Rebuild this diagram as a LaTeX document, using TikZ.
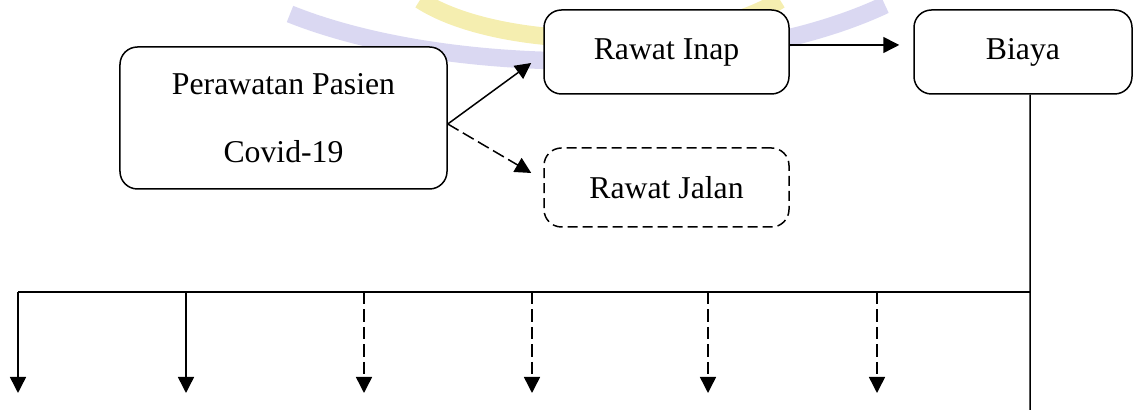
\documentclass[tikz,border=0pt]{standalone}
\usepackage{fontspec}
\setmainfont{Liberation Serif}
\usetikzlibrary{arrows.meta}
\definecolor{wmyellow}{HTML}{F5EEB0}
\definecolor{wmlilac}{HTML}{DAD8F2}
\tikzset{
  box/.style={draw, fill=white, rounded corners=7pt, line width=0.6pt, inner sep=2pt,
    font=\fontsize{12.7}{15}\selectfont},
  flow/.style={line width=0.6pt, -{Triangle[length=6.4pt,width=6.4pt]}},
  dashbox/.style={dash pattern=on 4pt off 2pt},
  dashflow/.style={dash pattern=on 5pt off 2pt}
}
\begin{document}
\begin{tikzpicture}[x=0.4pt,y=-0.4pt]
\useasboundingbox (0,0) rectangle (1133,410);
% faint watermark at the top
\draw[wmlilac, line width=7pt] (290,14) .. controls (450,78) and (730,78) .. (885,5);
\draw[wmyellow, line width=7pt] (420,0) .. controls (500,52) and (700,52) .. (780,0);
% boxes
\node[box, minimum width=130.8pt, minimum height=56.8pt, align=center,
  font=\fontsize{12.7}{27.2}\selectfont] (pasien) at (283.5,118) {Perawatan Pasien\\Covid-19};
\node[box, minimum width=98pt, minimum height=33.6pt] (inap) at (666.5,52) {Rawat Inap};
\node[box, dashbox, minimum width=98pt, minimum height=31.6pt] (jalan) at (666.5,187.5) {Rawat Jalan};
\node[box, minimum width=87.2pt, minimum height=33.6pt] (biaya) at (1023,52) {Biaya};
% arrows between the boxes
\draw[flow] ([yshift=-2.4pt]pasien.east) -- ([xshift=-4.8pt,yshift=-4.4pt]inap.west);
\draw[flow, dashflow] ([yshift=-2.4pt]pasien.east) -- ([xshift=-4.8pt,yshift=5.8pt]jalan.west);
\draw[flow] ([yshift=2.8pt]inap.east) -- ([xshift=-5.6pt,yshift=2.8pt]biaya.west);
% line down from Biaya and the branch line
\coordinate (split) at (1030,292);
\coordinate (foot) at (1030,410);
\coordinate (branch) at (18,292);
\draw[line width=0.6pt] ([xshift=2.8pt]biaya.south) -- (foot);
\draw[line width=0.6pt] (split) -- (branch);
\foreach \x [count=\i] in {18,186,364,532,708,877}{ % edit here for the arrows
  \coordinate (top\i) at (\x,292);
  \coordinate (tip\i) at (\x,393);}
\foreach \i in {1,2}
  \draw[flow] (top\i) -- (tip\i);
\foreach \i in {3,...,6}
  \draw[flow, dashflow] (top\i) -- (tip\i);
\end{tikzpicture}
\end{document}
